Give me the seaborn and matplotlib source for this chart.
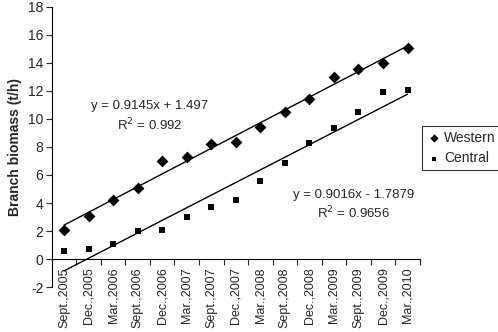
import pandas as pd
import numpy as np
import seaborn as sns
import matplotlib.pyplot as plt
from matplotlib.ticker import FixedLocator, NullFormatter

dates = ['Sept.,2005', 'Dec.,2005', 'Mar.,2006', 'Sept.,2006', 'Dec.,2006',
         'Mar.,2007', 'Sept.,2007', 'Dec.,2007', 'Mar.,2008', 'Sept.,2008',
         'Dec.,2008', 'Mar.,2009', 'Sept.,2009', 'Dec.,2009', 'Mar.,2010']
western = [2.1, 3.1, 4.2, 5.1, 7.0, 7.25, 8.2, 8.35, 9.4, 10.5, 11.4, 13.0, 13.6, 14.0, 15.1]
central = [0.6, 0.75, 1.05, 2.0, 2.1, 3.0, 3.7, 4.2, 5.55, 6.85, 8.25, 9.35, 10.5, 11.95, 12.1]

idx = np.arange(1, len(dates) + 1)
df = pd.DataFrame({'x': idx, 'Western': western, 'Central': central})

sns.set_style('white')
plt.rcParams['font.family'] = ['Liberation Sans', 'DejaVu Sans']
plt.rcParams['axes.unicode_minus'] = False

fig = plt.figure(figsize=(4.98, 3.32), dpi=100)
ax = fig.add_axes([0.104, 0.1355, 0.739, 0.8435])

sns.scatterplot(data=df, x='x', y='Western', marker='D', s=36, color='black',
                edgecolor='black', linewidth=0, label='Western', ax=ax)
sns.scatterplot(data=df, x='x', y='Central', marker='s', s=22, color='black',
                edgecolor='black', linewidth=0, label='Central', ax=ax)
sns.regplot(data=df, x='x', y='Western', scatter=False, ci=None,
            line_kws={'color': 'black', 'lw': 1}, ax=ax)
sns.regplot(data=df, x='x', y='Central', scatter=False, ci=None,
            line_kws={'color': 'black', 'lw': 1}, ax=ax)

ax.set_xlim(0.5, len(dates) + 0.5)
ax.set_ylim(-2, 18)
ax.set_yticks(range(-2, 19, 2))
ax.tick_params(axis='y', direction='out', length=4, width=0.8, labelsize=10, left=True, pad=2)

# category axis crossing at y = 0: labels at centres, ticks at boundaries
ax.spines['bottom'].set_position(('data', 0))
ax.set_xticks(idx)
ax.set_xticklabels(dates, rotation=90, fontsize=9)
ax.tick_params(axis='x', which='major', length=0, pad=6)
ax.xaxis.set_minor_locator(FixedLocator(np.arange(0.5, len(dates) + 1, 1)))
ax.xaxis.set_minor_formatter(NullFormatter())
ax.tick_params(axis='x', which='minor', bottom=True, direction='out', length=4, width=0.8)
ax.set_xlabel('')
ax.set_ylabel('Branch biomass (t/h)', fontsize=10, fontweight='bold', labelpad=4)

for s in ['top', 'right']:
    ax.spines[s].set_visible(False)
for s in ['left', 'bottom']:
    ax.spines[s].set_color('black')
    ax.spines[s].set_linewidth(0.8)

ax.text(4.5, 10.9, 'y = 0.9145x + 1.497', ha='center', va='center', fontsize=9.5)
ax.text(4.5, 9.6, 'R$^2$ = 0.992', ha='center', va='center', fontsize=9.5)
ax.text(12.8, 4.6, 'y = 0.9016x - 1.7879', ha='center', va='center', fontsize=9.5)
ax.text(12.8, 3.3, 'R$^2$ = 0.9656', ha='center', va='center', fontsize=9.5)

leg = ax.legend(loc='upper left', bbox_to_anchor=(0.848, 0.62), bbox_transform=fig.transFigure,
                frameon=True, fancybox=False, fontsize=10, handletextpad=0.2,
                handlelength=1.0, borderpad=0.35, labelspacing=0.45, borderaxespad=0,
                markerscale=0.7)
leg.get_frame().set_edgecolor('black')
leg.get_frame().set_linewidth(0.8)

fig.savefig('out.png', dpi=100)
